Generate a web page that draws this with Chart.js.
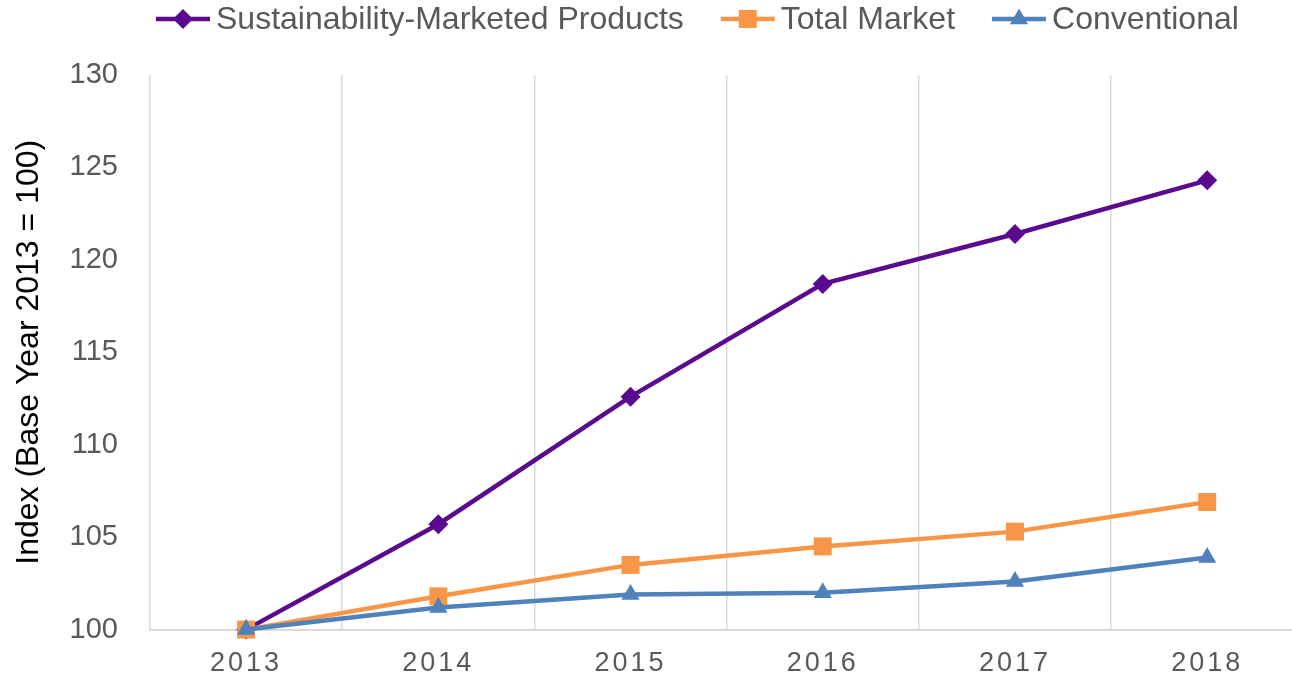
<!DOCTYPE html>
<html>
<head>
<meta charset="utf-8">
<title>Sustainability-Marketed Products Index</title>
<script src="https://cdn.jsdelivr.net/npm/chart.js@4/dist/chart.umd.min.js"></script>
<style>
  html, body { margin: 0; padding: 0; background: #fff; overflow: hidden; }
  #wrap { position: absolute; left: 0; top: 0; width: 1316px; height: 679px; }
</style>
</head>
<body>
<div id="wrap"><canvas id="chart" width="1316" height="679"></canvas></div>
<script>
const years = ["2013", "2014", "2015", "2016", "2017", "2018"];
const sustainable = [100, 105.7, 112.6, 118.7, 121.4, 124.3];
const totalMarket = [100, 101.8, 103.5, 104.5, 105.3, 106.9];
const conventional = [100, 101.2, 101.9, 102.0, 102.6, 103.9];

const purple = "#5A0A8E";
const orange = "#F79646";
const blue = "#4F81BD";
const textGray = "#595959";

// legend like the Excel one: line, marker, then label
const lineLegend = {
    id: "lineLegend",
    afterDraw(chart) {
        const ctx = chart.ctx;
        const y = 19;
        let x = 156;
        ctx.save();
        ctx.font = "32px 'Liberation Sans', Arial, sans-serif";
        ctx.textBaseline = "middle";
        chart.data.datasets.forEach((ds) => {
            ctx.strokeStyle = ds.borderColor;
            ctx.lineWidth = 4.5;
            ctx.beginPath();
            ctx.moveTo(x, y);
            ctx.lineTo(x + 54, y);
            ctx.stroke();
            drawMarker(ctx, ds.pointStyle, x + 27, y, ds.pointRadius, ds.borderColor);
            ctx.fillStyle = textGray;
            ctx.fillText(ds.label, x + 60, y + 1);
            x += 60 + ctx.measureText(ds.label).width + 37;
        });
        ctx.restore();
    }
};

function drawMarker(ctx, style, x, y, r, color) {
    ctx.fillStyle = color;
    ctx.beginPath();
    if (style === "rectRot") {
        ctx.moveTo(x, y - r);
        ctx.lineTo(x + r, y);
        ctx.lineTo(x, y + r);
        ctx.lineTo(x - r, y);
    } else if (style === "rect") {
        const s = r * Math.SQRT1_2;
        ctx.rect(x - s, y - s, 2 * s, 2 * s);
    } else {
        const h = r * 0.866;
        ctx.moveTo(x, y - r);
        ctx.lineTo(x + h, y + r / 2);
        ctx.lineTo(x - h, y + r / 2);
    }
    ctx.closePath();
    ctx.fill();
}

// wider spacing on the year labels
const spacedYears = {
    id: "spacedYears",
    beforeDraw(chart) {
        const sx = chart.scales.x;
        if (sx._spaced) return;
        const draw = sx.drawLabels.bind(sx);
        sx.drawLabels = (area) => {
            chart.ctx.save();
            chart.ctx.letterSpacing = "3px";
            draw(area);
            chart.ctx.restore();
        };
        sx._spaced = true;
    }
};

new Chart(document.getElementById("chart"), {
    type: "line",
    data: {
        labels: years,
        datasets: [{
            label: "Sustainability-Marketed Products",
            data: sustainable,
            order: 3,
            clip: false,
            borderColor: purple,
            backgroundColor: purple,
            borderWidth: 4.5,
            pointStyle: "rectRot",
            pointRadius: 10,
            pointBorderWidth: 0,
        }, {
            label: "Total Market",
            data: totalMarket,
            order: 2,
            clip: false,
            borderColor: orange,
            backgroundColor: orange,
            borderWidth: 4.5,
            pointStyle: "rect",
            pointRadius: 12.7,
            pointBorderWidth: 0,
        }, {
            label: "Conventional",
            data: conventional,
            order: 1,
            clip: false,
            borderColor: blue,
            backgroundColor: blue,
            borderWidth: 4.5,
            pointStyle: "triangle",
            pointRadius: 10.5,
            pointBorderWidth: 0,
        }]
    },
    options: {
        responsive: false,
        animation: false,
        layout: {
            padding: { top: 75, right: 8, left: 0, bottom: 0 }
        },
        plugins: {
            legend: { display: false },
            tooltip: { enabled: false },
        },
        scales: {
            x: {
                offset: true,
                grid: {
                    offset: true,
                    color: "#D9D9D9",
                    lineWidth: 1.5,
                    drawTicks: false,
                },
                border: { color: "#D9D9D9", width: 2 },
                ticks: {
                    color: textGray,
                    padding: 18,
                    font: { family: "'Liberation Sans', Arial, sans-serif", size: 27 },
                },
                afterFit: (scale) => { scale.height = 48; },
            },
            y: {
                min: 100,
                max: 130,
                grid: { display: false, drawTicks: false },
                border: { display: false },
                ticks: {
                    stepSize: 5,
                    color: textGray,
                    padding: 32,
                    font: { family: "'Liberation Sans', Arial, sans-serif", size: 29 },
                },
                title: {
                    display: true,
                    text: "Index (Base Year 2013 = 100)",
                    color: "#000",
                    padding: { top: 10, bottom: 0 },
                    font: { family: "'Liberation Sans', Arial, sans-serif", size: 32 },
                },
                afterFit: (scale) => { scale.width = 150; },
            }
        }
    },
    plugins: [lineLegend, spacedYears]
});
</script>
</body>
</html>
